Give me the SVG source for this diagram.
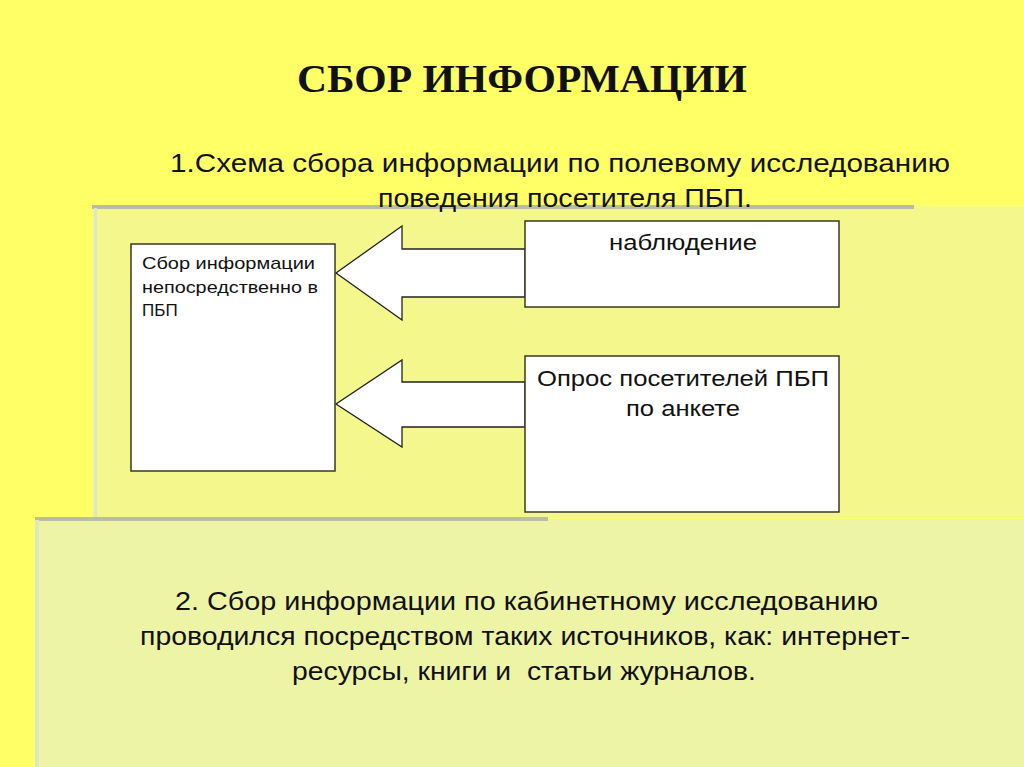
<svg xmlns="http://www.w3.org/2000/svg" width="1024" height="767" viewBox="0 0 1024 767">
<style>
.box{fill:#fff;stroke:#3a3a20;stroke-width:1.5}
.arr{fill:#fff;stroke:#222;stroke-width:1.3}
text{font-family:"Liberation Sans",Arial,sans-serif;fill:#111}
</style>
<rect width="1024" height="767" fill="#FFFF66"/>
<rect x="92" y="206" width="932" height="312" fill="#F4F78C"/>
<rect x="92" y="205" width="822" height="4" fill="#B9BDA6"/>
<rect x="94" y="208" width="3" height="559" fill="#DDE8C0"/>
<rect x="35" y="519" width="989" height="248" fill="#EEF4A6"/>
<rect x="35" y="517" width="513" height="4" fill="#B9BDA6"/>
<rect x="35" y="520" width="4" height="247" fill="#DDE8C0"/>
<text x="297" y="92" font-weight="bold" font-size="40" textLength="450" lengthAdjust="spacingAndGlyphs" style="font-family:'Liberation Serif',serif">СБОР ИНФОРМАЦИИ</text>
<g font-size="25" lengthAdjust="spacingAndGlyphs">
<text x="170" y="172" textLength="780" lengthAdjust="spacingAndGlyphs">1.Схема сбора информации по полевому исследованию</text>
<text x="378" y="207" textLength="374" lengthAdjust="spacingAndGlyphs">поведения посетителя ПБП.</text>
</g>
<g id="connectors">
<polygon class="arr" points="525,249 402,249 402,226 336,273 402,320 402,297 525,297"/>
<polygon class="arr" points="525,382 402,382 402,360 336,404 402,447 402,427 525,427"/>
</g>
<g id="node-left"><rect class="box" x="131" y="244" width="204" height="227"/>
<text font-size="17"><tspan x="142" y="269" textLength="173" lengthAdjust="spacingAndGlyphs">Сбор информации</tspan><tspan x="142" y="293" textLength="176" lengthAdjust="spacingAndGlyphs">непосредственно в</tspan><tspan x="142" y="316">ПБП</tspan></text></g>
<g id="node-obs"><rect class="box" x="525" y="221" width="314" height="86"/>
<text x="609" y="250" font-size="22" textLength="148" lengthAdjust="spacingAndGlyphs">наблюдение</text></g>
<g id="node-survey"><rect class="box" x="525" y="356" width="314" height="156"/>
<text font-size="22"><tspan x="537" y="386" textLength="292" lengthAdjust="spacingAndGlyphs">Опрос посетителей ПБП</tspan><tspan x="626" y="416" textLength="114" lengthAdjust="spacingAndGlyphs">по анкете</tspan></text></g>
<text font-size="25" xml:space="preserve"><tspan x="175" y="610" textLength="703" lengthAdjust="spacingAndGlyphs">2. Сбор информации по кабинетному исследованию</tspan><tspan x="140" y="645" textLength="770" lengthAdjust="spacingAndGlyphs">проводился посредством таких источников, как: интернет-</tspan><tspan x="292" y="680" textLength="464" lengthAdjust="spacingAndGlyphs">ресурсы, книги и  статьи журналов.</tspan></text>
</svg>
